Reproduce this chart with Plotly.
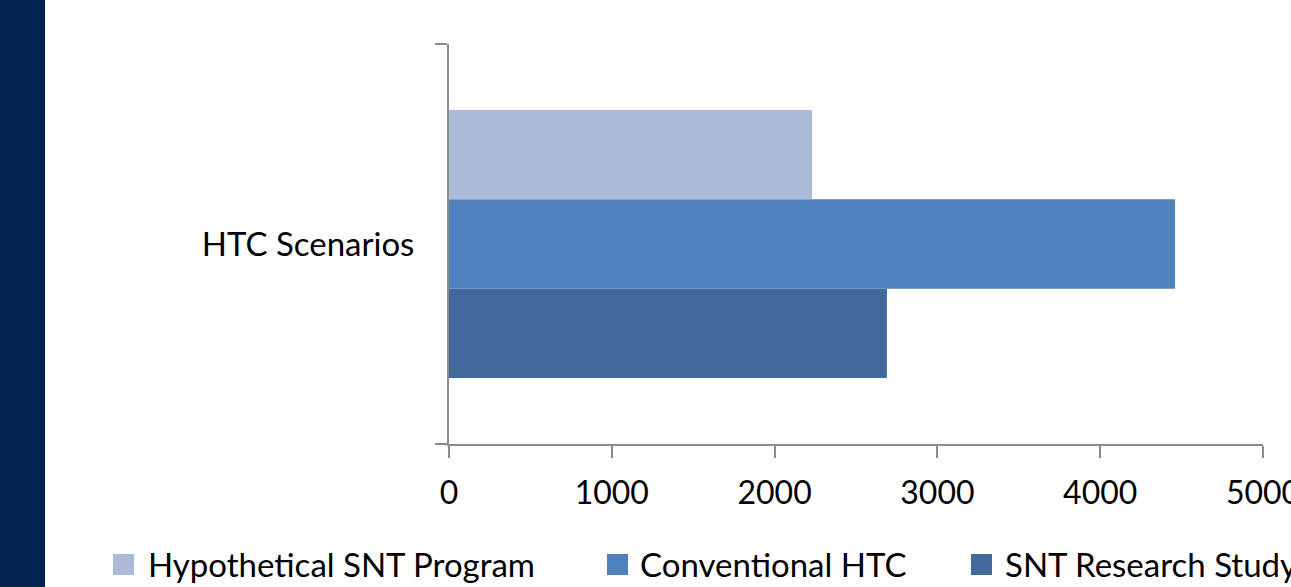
import plotly.graph_objects as go

# Scenario comparison data
category = ["HTC Scenarios"]
series_names = ["Hypothetical SNT Program", "Conventional HTC", "SNT Research Study"]
series_values = [[2230], [4460], [2690]]
series_colors = ["#ABBAD7", "#4F81BD", "#416A9B"]
x_ticks = [0, 1000, 2000, 3000, 4000, 5000]

FONT = "Lato, Carlito, Calibri, sans-serif"

# Plot-area geometry in pixels (used to place the key and side band)
W, H = 1291, 587
ML, MR, MT, MB = 449, 28, 44, 143
PW, PH = W - ML - MR, H - MT - MB


def px_x(px):
    return (px - ML) / PW


def px_y(py):
    return (H - MB - py) / PH


fig = go.Figure()
# Horizontal grouped bars stack upward from the first trace, so add in reverse
for name, vals, color in reversed(list(zip(series_names, series_values, series_colors))):
    fig.add_trace(go.Bar(
        y=category, x=vals, name=name, orientation="h",
        marker=dict(color=color, line=dict(width=0)),
        showlegend=False,
    ))

fig.update_layout(
    width=W, height=H,
    margin=dict(l=ML, r=MR, t=MT, b=MB, autoexpand=False),
    paper_bgcolor="white", plot_bgcolor="white",
    barmode="group", bargap=0.33, bargroupgap=0,
    font=dict(family=FONT, size=32, color="black"),
    showlegend=False,
    xaxis=dict(
        range=[0, 5000], tickvals=x_ticks, ticktext=[str(v) for v in x_ticks],
        showgrid=False, zeroline=False,
        showline=True, linecolor="#8C8C8C", linewidth=2,
        ticks="outside", ticklen=12, tickwidth=2, tickcolor="#8C8C8C",
        tickfont=dict(family=FONT, size=32, color="black"),
        ticklabeloverflow="allow", ticklabelstandoff=8,
        fixedrange=True,
    ),
    yaxis=dict(
        showgrid=False, zeroline=False,
        showline=True, linecolor="#8C8C8C", linewidth=2,
        ticks="outside", ticklen=12, tickwidth=2, tickcolor="#8C8C8C",
        tickson="boundaries",
        tickfont=dict(family=FONT, size=33, color="black"),
        ticklabelstandoff=26,
        fixedrange=True,
    ),
)

# Dark navy band along the left edge of the slide
fig.add_shape(
    type="rect", xref="paper", yref="paper",
    x0=px_x(0), x1=px_x(45), y0=px_y(H + 5), y1=px_y(-5),
    fillcolor="#00234F", line=dict(width=0), layer="below",
)

# Key below the axis: colour square followed by the series name
key_square_left = [113, 607, 971]
key_text_left = [146, 638, 1003]
key_y = 564.5
key_size = 21
for name, color, sx, tx in zip(series_names, series_colors, key_square_left, key_text_left):
    fig.add_shape(
        type="rect", xref="paper", yref="paper",
        x0=px_x(sx), x1=px_x(sx + key_size),
        y0=px_y(key_y + key_size / 2), y1=px_y(key_y - key_size / 2),
        fillcolor=color, line=dict(width=0),
    )
    fig.add_annotation(
        xref="paper", yref="paper", x=px_x(tx), y=px_y(key_y - 1),
        text=name, showarrow=False, xanchor="left", yanchor="middle",
        font=dict(family=FONT, size=33, color="black"),
    )

fig.write_html("out.html")
